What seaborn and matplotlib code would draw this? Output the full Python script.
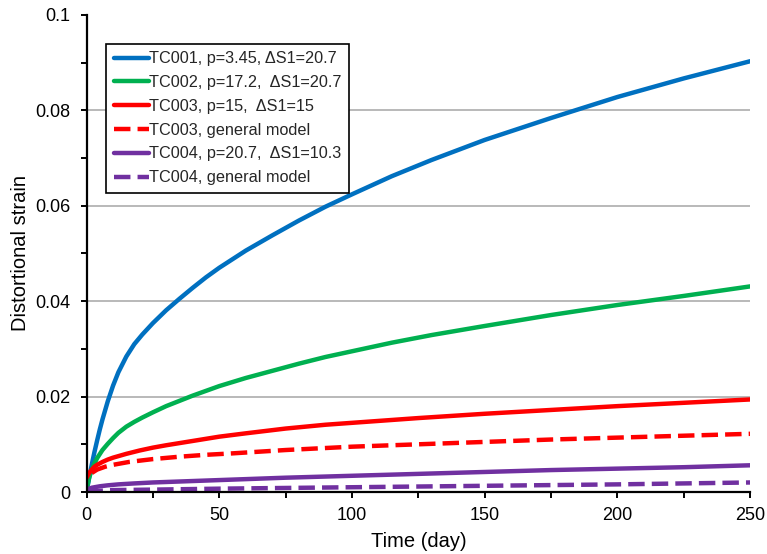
import matplotlib
matplotlib.use("Agg")
import matplotlib.pyplot as plt
import matplotlib.ticker as mticker
import pandas as pd
import seaborn as sns

# Distortional strain vs. time for four creep tests and two model curves
tc001_t = [0, 1, 2, 3, 4, 5, 6, 8, 10, 12, 15, 18, 21, 25, 30, 35, 40, 45, 50,
           60, 70, 80, 90, 100, 115, 130, 150, 175, 200, 225, 250]
tc001_e = [0.0, 0.0030, 0.0058, 0.0084, 0.0108, 0.0131, 0.0152, 0.0190, 0.0223, 0.0251,
           0.0284, 0.0310, 0.0330, 0.0354, 0.0381, 0.0405, 0.0428, 0.0450, 0.0470,
           0.0506, 0.0538, 0.0569, 0.0598, 0.0624, 0.0662, 0.0696, 0.0738, 0.0784, 0.0828,
           0.0867, 0.0903]

tc002_t = [0, 1, 2, 3, 4, 6, 8, 10, 12, 15, 18, 21, 25, 30, 35, 40, 45, 50,
           60, 70, 80, 90, 100, 115, 130, 150, 175, 200, 225, 250]
tc002_e = [0.0005, 0.0030, 0.0047, 0.0060, 0.0071, 0.0088, 0.0101, 0.0113, 0.0124, 0.0137,
           0.0147, 0.0156, 0.0167, 0.0180, 0.0191, 0.0202, 0.0212, 0.0222,
           0.0239, 0.0254, 0.0269, 0.0283, 0.0295, 0.0313, 0.0329, 0.0348, 0.0371, 0.0392,
           0.0411, 0.0431]

tc003_t = [0, 1, 2, 3, 4, 6, 8, 10, 15, 20, 25, 30, 40, 50, 60, 75, 90, 100, 125, 150,
           175, 200, 225, 250]
tc003_e = [0.0030, 0.0040, 0.0047, 0.0053, 0.0057, 0.0063, 0.0068, 0.0072, 0.0080, 0.0087,
           0.0093, 0.0098, 0.0107, 0.0116, 0.0123, 0.0133, 0.0141, 0.0145, 0.0155, 0.0164,
           0.0172, 0.0180, 0.0187, 0.0194]

tc003m_t = [2, 4, 7, 10, 16, 25, 35, 45, 55, 75, 100, 125, 150, 175, 200, 225, 250]
tc003m_e = [0.0040, 0.0047, 0.0053, 0.0057, 0.0063, 0.0069, 0.0074, 0.0078, 0.0081, 0.0088,
            0.0095, 0.0100, 0.0105, 0.0110, 0.0114, 0.0118, 0.0122]

tc004_t = [0, 1, 2, 5, 8, 12, 18, 25, 35, 50, 75, 100, 125, 150, 175, 200, 225, 250]
tc004_e = [0.0004, 0.0007, 0.0009, 0.0012, 0.0014, 0.0016, 0.0018, 0.0020, 0.0022, 0.0025,
           0.0030, 0.0034, 0.0038, 0.0042, 0.0046, 0.0049, 0.0052, 0.0056]

tc004m_t = [0, 10, 25, 50, 100, 150, 200, 250]
tc004m_e = [0.0001, 0.0004, 0.0005, 0.0007, 0.0010, 0.0013, 0.0016, 0.0020]

labels = [
    "TC001, p=3.45, \u0394S1=20.7",
    "TC002, p=17.2,  \u0394S1=20.7",
    "TC003, p=15,  \u0394S1=15",
    "TC003, general model",
    "TC004, p=20.7,  \u0394S1=10.3",
    "TC004, general model",
]

x_ticks = [0, 50, 100, 150, 200, 250]
y_ticks = [0, 0.02, 0.04, 0.06, 0.08, 0.1]

sns.set_theme(style="white")
plt.rcParams["font.family"] = ["Liberation Sans", "DejaVu Sans"]

fig = plt.figure(figsize=(7.67, 5.54), dpi=100)
ax = fig.add_axes([0.1128, 0.1119, 0.8652, 0.8611])

series = [
    (tc001_t, tc001_e, "#0070C0", "-"),
    (tc002_t, tc002_e, "#00B050", "-"),
    (tc003_t, tc003_e, "#FF0000", "-"),
    (tc003m_t, tc003m_e, "#FF0000", "--"),
    (tc004_t, tc004_e, "#7030A0", "-"),
    (tc004m_t, tc004m_e, "#7030A0", "--"),
]

for (t, e, c, ls), lab in zip(series, labels):
    df = pd.DataFrame({"time": t, "strain": e})
    kw = dict(dashes=(3, 1.8)) if ls == "--" else {}
    sns.lineplot(data=df, x="time", y="strain", ax=ax, color=c, linewidth=3.2,
                 linestyle=ls, label=lab, sort=False, estimator=None, **kw)

ax.set_xlim(0, 250)
ax.set_ylim(0, 0.1)
ax.set_xticks(x_ticks)
ax.set_yticks(y_ticks)
ax.xaxis.set_minor_locator(mticker.MultipleLocator(25))
ax.yaxis.set_minor_locator(mticker.MultipleLocator(0.01))
ax.yaxis.set_major_formatter(mticker.FuncFormatter(lambda v, p: f"{v:g}"))
ax.xaxis.set_major_formatter(mticker.FuncFormatter(lambda v, p: f"{v:g}"))

ax.tick_params(axis="both", which="both", direction="out", length=4.5, width=1.4,
               color="black", labelsize=13, labelcolor="black")
ax.tick_params(axis="x", which="major", pad=6)
ax.tick_params(axis="y", which="major", pad=7)
ax.tick_params(axis="both", which="minor", labelleft=False, labelbottom=False)
ax.xaxis.set_ticks_position("bottom")
ax.yaxis.set_ticks_position("left")

ax.yaxis.grid(True, which="major", color="#A6A6A6", linewidth=1.1)
ax.set_axisbelow(True)
for gl, v in zip(ax.get_ygridlines(), y_ticks):
    if v in (0, 0.1):
        gl.set_visible(False)

for side in ("top", "right"):
    ax.spines[side].set_visible(False)
for side in ("left", "bottom"):
    ax.spines[side].set_color("black")
    ax.spines[side].set_linewidth(1.6)

ax.set_xlabel("Time (day)", fontsize=14.5, color="black", labelpad=6)
ax.set_ylabel("Distortional strain", fontsize=14.5, color="black", labelpad=4)

leg = ax.legend(loc="upper left", bbox_to_anchor=(0.030, 0.939), borderaxespad=0,
                fontsize=11.7, frameon=True, fancybox=False, framealpha=1,
                edgecolor="black", handlelength=2.15, handletextpad=0.05,
                labelspacing=0.54, borderpad=0.45)
leg.get_frame().set_linewidth(1.2)

fig.savefig("out.png", dpi=100)
